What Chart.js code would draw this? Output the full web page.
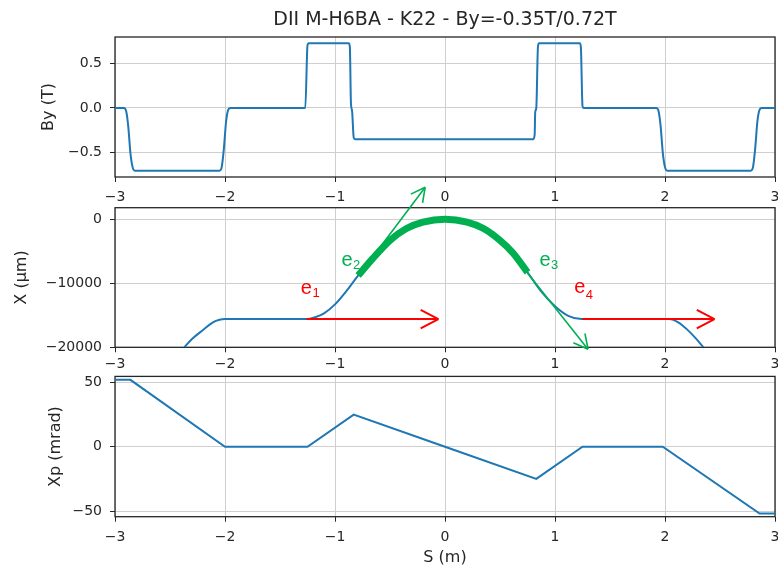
<!DOCTYPE html>
<html>
<head>
<meta charset="utf-8">
<script src="https://cdn.jsdelivr.net/npm/chart.js@4.4.0/dist/chart.umd.min.js"></script>
<style>
  html, body { margin: 0; padding: 0; background: #fff; }
  body { width: 778px; height: 570px; overflow: hidden; position: relative; }
  canvas { position: absolute; left: 0; }
</style>
</head>
<body>
<canvas id="byChart" width="790" height="210" style="top:0px"></canvas>
<canvas id="xChart" width="790" height="200" style="top:180px"></canvas>
<canvas id="xpChart" width="790" height="210" style="top:360px"></canvas>
<script>
// shared S axis ticks (m)
const sTicks = [-3, -2, -1, 0, 1, 2, 3];

// By (T) along S
const sBy = [-3.0, -2.92, -2.90, -2.88, -2.86, -2.84, -2.82, -2.05, -2.03, -2.01, -1.99, -1.97, -1.95,
  -1.27, -1.25, -1.24, -0.875, -0.865, -0.855, -0.845, -0.83, -0.815,
  0.80, 0.815, 0.82, 0.83, 0.845, 0.855, 1.225, 1.235, 1.25, 1.26,
  1.92, 1.94, 1.96, 1.98, 2.00, 2.02, 2.78, 2.80, 2.82, 2.84, 2.86, 2.88, 3.0];
const byVals = [0, 0, -0.03, -0.2, -0.5, -0.66, -0.70, -0.70, -0.66, -0.45, -0.15, -0.02, 0,
  0, 0.70, 0.72, 0.72, 0.68, 0.05, -0.03, -0.33, -0.35,
  -0.35, -0.30, -0.05, 0, 0.68, 0.72, 0.72, 0.68, 0.02, 0,
  0, -0.03, -0.2, -0.5, -0.66, -0.70, -0.70, -0.66, -0.45, -0.15, -0.02, 0, 0];
const byTicks = [-0.5, 0, 0.5];

// X (um) along S
const sX = [-2.37, -2.3, -2.2, -2.11, -2.05, -2.0, -1.26, -1.18, -1.1, -1.0, -0.9, -0.79, -0.66, -0.5, -0.35, -0.2, 0,
  0.2, 0.35, 0.5, 0.62, 0.75, 0.88, 1.0, 1.12, 1.24, 2.04, 2.12, 2.2, 2.28, 2.35];
const xVals = [-20000, -18700, -17300, -16100, -15700, -15600, -15600, -15300, -14700, -13300, -11300, -8800, -6200, -3300, -1450, -450, 0,
  -450, -1450, -3300, -5300, -8300, -11400, -13600, -15100, -15600, -15600, -16100, -17200, -18600, -20000];
const xTicks = [-20000, -10000, 0];
const arcFrom = -0.8, arcTo = 0.76;   // highlighted stretch between e2 and e3

// unit vectors drawn on the X panel (S in m, X in um)
const e1S = [-1.26, -0.06], e1X = [-15600, -15600];
const e2S = [-0.78, -0.18], e2X = [-8700, 5000];
const e3S = [0.75, 1.30],  e3X = [-8400, -20300];
const e4S = [1.25, 2.45],  e4X = [-15600, -15600];
const vecNames = ['1', '2', '3', '4'];
const vecNameS = [-1.26, -0.89, 0.91, 1.225];
const vecNameX = [-10800, -6500, -6500, -10700];

// Xp (mrad) along S
const sXp = [-3.0, -2.86, -2.0, -1.25, -0.83, 0, 0.83, 1.25, 1.98, 2.86, 3.0];
const xpVals = [52, 52, 0, 0, 25, 0, -25, 0, 0, -52, -52];
const xpTicks = [-50, 0, 50];

const FONT = 'DejaVu Sans';
const INK = '#262626';
const BLUE = '#1f77b4';
const GREEN = '#00b050';
const RED = '#ff0000';
const minus = s => String(s).replace('-', '\u2212');
const pts = (xs, ys) => xs.map((x, i) => ({ x: x, y: ys[i] }));

const frame = {
  id: 'frame',
  beforeDatasetsDraw(chart) {
    const { ctx, chartArea: a } = chart;
    ctx.save();
    ctx.strokeStyle = INK;
    ctx.lineWidth = 1.3;
    ctx.strokeRect(a.left, a.top, a.right - a.left, a.bottom - a.top);
    ctx.restore();
  }
};

const arrowHeads = {
  id: 'arrowHeads',
  afterDatasetsDraw(chart) {
    const ctx = chart.ctx;
    chart.data.datasets.forEach((ds, i) => {
      if (!ds.headLen) return;
      const els = chart.getDatasetMeta(i).data;
      const a = els[els.length - 2], b = els[els.length - 1];
      const ang = Math.atan2(b.y - a.y, b.x - a.x);
      ctx.save();
      ctx.strokeStyle = ds.borderColor;
      ctx.lineWidth = ds.borderWidth;
      ctx.beginPath();
      [-1, 1].forEach(k => {
        ctx.moveTo(b.x, b.y);
        ctx.lineTo(b.x - ds.headLen * Math.cos(ang + k * 0.48), b.y - ds.headLen * Math.sin(ang + k * 0.48));
      });
      ctx.stroke();
      ctx.restore();
    });
  }
};

const vecLabels = {
  id: 'vecLabels',
  afterDatasetsDraw(chart) {
    const { ctx, scales: { x, y } } = chart;
    const cols = [RED, GREEN, GREEN, RED];
    vecNames.forEach((n, i) => {
      const px = x.getPixelForValue(vecNameS[i]);
      const py = y.getPixelForValue(vecNameX[i]);
      ctx.save();
      ctx.fillStyle = cols[i];
      ctx.textBaseline = 'middle';
      ctx.textAlign = 'center';
      ctx.font = '20px "Liberation Sans"';
      ctx.fillText('e', px, py);
      ctx.textAlign = 'left';
      ctx.font = '13px "Liberation Sans"';
      ctx.fillText(n, px + 6, py + (i === 3 ? 8 : 5));
      ctx.restore();
    });
  }
};

function panel(cfg) {
  return {
    type: 'line',
    data: { datasets: cfg.datasets },
    options: {
      responsive: false,
      animation: false,
      devicePixelRatio: 1,
      layout: { padding: cfg.pad },
      elements: { point: { radius: 0 } },
      plugins: {
        legend: { display: false },
        tooltip: { enabled: false },
        title: cfg.title || { display: false }
      },
      scales: {
        x: {
          type: 'linear', min: -3, max: 3,
          afterBuildTicks: s => { s.ticks = sTicks.map(v => ({ value: v })); },
          afterFit: s => { s.height = cfg.xh; },
          grid: { color: '#cfcfcf', tickColor: INK, tickLength: 5 },
          border: { display: false },
          ticks: { color: INK, font: { family: FONT, size: 14 }, padding: cfg.xpad, maxRotation: 0, autoSkip: false,
            callback: v => minus(v) },
          title: cfg.xTitle
            ? { display: true, text: cfg.xTitle, color: INK, font: { family: FONT, size: 16 }, padding: 0 }
            : { display: false }
        },
        y: {
          type: 'linear', min: cfg.ymin, max: cfg.ymax,
          afterBuildTicks: s => { s.ticks = cfg.yticks.map(v => ({ value: v })); },
          afterFit: s => { s.width = 115 - cfg.pad.left; },
          grid: { color: '#cfcfcf', tickColor: INK, tickLength: 5 },
          border: { display: false },
          ticks: { color: INK, font: { family: FONT, size: 14 }, padding: 8, callback: cfg.yfmt },
          title: { display: true, text: cfg.yTitle, color: INK, font: { family: FONT, size: 16 }, padding: 0 }
        }
      }
    },
    plugins: cfg.plugins
  };
}

new Chart(document.getElementById('byChart'), panel({
  pad: { left: 39, right: 15, top: 0, bottom: 0 },
  xh: 33, xpad: 7,
  ymin: -0.77, ymax: 0.79, yticks: byTicks, yTitle: 'By (T)',
  yfmt: v => minus(v.toFixed(1)),
  title: { display: true, text: 'DII M-H6BA - K22 - By=-0.35T/0.72T', color: INK, fullSize: false,
    font: { family: FONT, size: 19, weight: 'normal' }, padding: { top: 8.6, bottom: 5.6 } },
  datasets: [{ data: pts(sBy, byVals), borderColor: BLUE, borderWidth: 2, cubicInterpolationMode: 'monotone' }],
  plugins: [frame]
}));

const xPts = pts(sX, xVals);
const arrow = (s, v, col, w, head) => ({ data: pts(s, v), borderColor: col, borderWidth: w, headLen: head, clip: false, order: 1 });

new Chart(document.getElementById('xChart'), panel({
  pad: { left: 12, right: 15, top: 27.7, bottom: 0 },
  xh: 32.7, xpad: 4,
  ymin: -20000, ymax: 1800, yticks: xTicks, yTitle: 'X (\u03bcm)',
  yfmt: v => minus(v),
  datasets: [
    arrow(e1S, e1X, RED, 2, 20),
    arrow(e4S, e4X, RED, 2, 20),
    arrow(e2S, e2X, GREEN, 1.6, 16),
    arrow(e3S, e3X, GREEN, 1.6, 16),
    { data: xPts.filter(p => p.x >= arcFrom && p.x <= arcTo), borderColor: GREEN, borderWidth: 7,
      cubicInterpolationMode: 'monotone', order: 2 },
    { data: xPts, borderColor: BLUE, borderWidth: 2, cubicInterpolationMode: 'monotone', order: 3 }
  ],
  plugins: [frame, arrowHeads, vecLabels]
}));

new Chart(document.getElementById('xpChart'), panel({
  pad: { left: 46, right: 15, top: 16, bottom: 2.4 },
  xh: 50.9, xpad: 7, xTitle: 'S (m)',
  ymin: -54.4, ymax: 54.7, yticks: xpTicks, yTitle: 'Xp (mrad)',
  yfmt: v => minus(v),
  datasets: [{ data: pts(sXp, xpVals), borderColor: BLUE, borderWidth: 2 }],
  plugins: [frame]
}));
</script>
</body>
</html>
